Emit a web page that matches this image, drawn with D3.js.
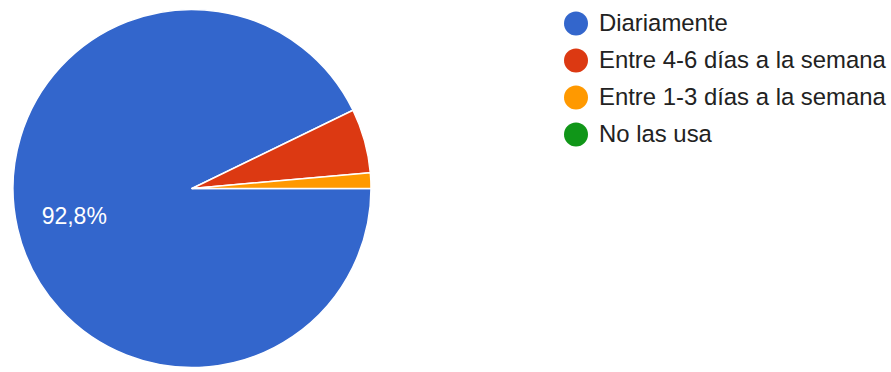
<!DOCTYPE html>
<html>
<head>
<meta charset="utf-8">
<script src="https://cdn.jsdelivr.net/npm/d3@7"></script>
<style>
  html, body { margin: 0; padding: 0; background: #fff; }
  svg { display: block; }
  text { font-family: Arial, "Liberation Sans", sans-serif; }
</style>
</head>
<body>
<svg id="chart" width="891" height="372"></svg>
<script>
// Answers and their shares (%)
const categories = ["Diariamente", "Entre 4-6 días a la semana", "Entre 1-3 días a la semana", "No las usa"];
const values = [92.8, 5.8, 1.4, 0];
const colors = ["#3366cc", "#dc3912", "#ff9900", "#109618"];

const svg = d3.select("#chart");
const cx = 192, cy = 188.5, radius = 179;

const pie = d3.pie()
  .value(d => d.value)
  .sort(null)
  .startAngle(Math.PI / 2)
  .endAngle(Math.PI / 2 + 2 * Math.PI);

const data = categories.map((c, i) => ({ name: c, value: values[i], color: colors[i] }));
const arcs = pie(data);

const arc = d3.arc().innerRadius(0).outerRadius(radius);
const labelArc = d3.arc().innerRadius(radius * 0.675).outerRadius(radius * 0.675);

const g = svg.append("g").attr("transform", `translate(${cx},${cy})`);

g.selectAll("path.slice")
  .data(arcs.filter(d => d.value > 0))
  .join("path")
  .attr("class", "slice")
  .attr("d", arc)
  .attr("fill", d => d.data.color)
  .attr("stroke", "#fff")
  .attr("stroke-width", 1.5)
  .attr("stroke-linejoin", "round");

// Percentage label only on slices large enough to hold it
g.selectAll("text.pct")
  .data(arcs.filter(d => d.value >= 10))
  .join("text")
  .attr("class", "pct")
  .attr("transform", d => `translate(${labelArc.centroid(d)})`)
  .attr("text-anchor", "middle")
  .attr("dy", "0.36em")
  .attr("fill", "#fff")
  .attr("font-size", 23)
  .text(d => d3.format(".1f")(d.data.value).replace(".", ",") + "%");

// Legend
const legend = svg.append("g").attr("transform", "translate(576,23.5)");
const rows = legend.selectAll("g.item")
  .data(data)
  .join("g")
  .attr("class", "item")
  .attr("transform", (d, i) => `translate(0,${i * 37})`);

rows.append("circle")
  .attr("r", 12)
  .attr("fill", d => d.color);

rows.append("text")
  .attr("x", 23)
  .attr("dy", "0.3em")
  .attr("fill", "#222")
  .attr("font-size", 23.9)
  .text(d => d.name);
</script>
</body>
</html>
